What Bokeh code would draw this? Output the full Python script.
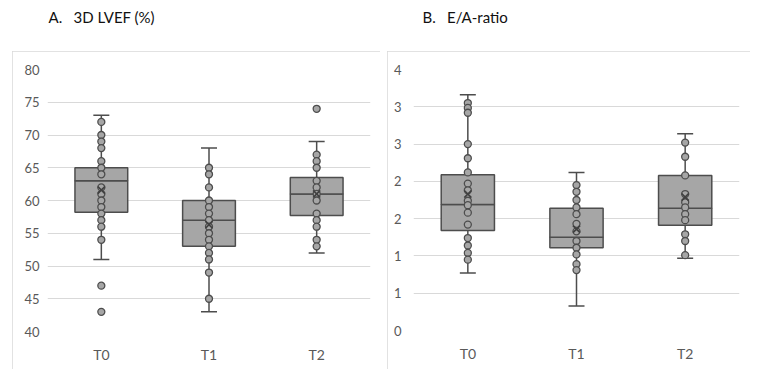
from bokeh.plotting import figure
from bokeh.models import ColumnDataSource, FactorRange, Range1d, FixedTicker, Spacer
from bokeh.layouts import row, column
from bokeh.embed import file_html
from bokeh.resources import INLINE

# ---------------- data ----------------
categories = ["T0", "T1", "T2"]

# Panel A: 3D LVEF (%)
a_low = [51, 43, 52]
a_q1 = [58.2, 53, 57.7]
a_median = [63, 57, 61]
a_q3 = [65, 60, 63.5]
a_high = [73, 68, 69]
a_mean = [61.6, 56.3, 61.0]
a_points_t0 = [72, 70, 69, 68, 66, 65, 64, 62, 61, 60, 59, 58, 57, 56, 54, 47, 43]
a_points_t1 = [65, 64, 62, 60, 59, 58, 57, 56, 55, 54, 53, 52, 51, 49, 45]
a_points_t2 = [74, 67, 66, 65, 63, 62, 61, 60, 58, 57, 56, 54, 53]
a_ticks = [40, 45, 50, 55, 60, 65, 70, 75, 80]
a_tick_labels = ["40", "45", "50", "55", "60", "65", "70", "75", "80"]

# Panel B: E/A-ratio
b_low = [0.77, 0.33, 0.97]
b_q1 = [1.34, 1.11, 1.41]
b_median = [1.69, 1.25, 1.64]
b_q3 = [2.09, 1.64, 2.08]
b_high = [3.16, 2.12, 2.64]
b_mean = [1.83, 1.36, 1.79]
b_points_t0 = [3.05, 2.985, 2.92, 2.50, 2.31, 2.12, 1.97, 1.88, 1.74, 1.68, 1.58,
               1.42, 1.24, 1.14, 1.04, 0.95]
b_points_t1 = [1.95, 1.86, 1.75, 1.65, 1.56, 1.43, 1.33, 1.20, 1.11, 1.02, 0.89, 0.81]
b_points_t2 = [2.52, 2.33, 2.08, 1.83, 1.72, 1.65, 1.56, 1.48, 1.29, 1.20, 1.01]
b_ticks = [0, 0.5, 1, 1.5, 2, 2.5, 3, 3.5]
b_tick_labels = ["0", "1", "1", "2", "2", "3", "3", "4"]

# ---------------- style ----------------
FONT = "Lato"
LABEL_COLOR = "#595959"
GRID_COLOR = "#d9d9d9"
BOX_FILL = "#a6a6a6"
EDGE = "#4d4d4d"


def title_fig(text, left):
    t = figure(width=384, height=46, output_backend="svg", toolbar_location=None,
               x_axis_location=None, y_axis_location=None,
               min_border_left=left, min_border_right=0, min_border_top=0,
               min_border_bottom=0)
    t.grid.visible = False
    t.outline_line_color = None
    t.title.text = text
    t.title.text_font = FONT
    t.title.text_font_size = "15px"
    t.title.text_font_style = "normal"
    t.title.text_color = "#111111"
    t.title.align = "left"
    t.title.standoff = 0
    return t


def panel(low, q1, med, q3, high, mean, pts, ticks, tick_labels, yr,
          width, left, right, bottom, ystandoff):
    p = figure(width=width, height=318, x_range=FactorRange(*categories),
               y_range=Range1d(*yr), output_backend="svg",
               toolbar_location=None, min_border_left=left,
               min_border_right=right, min_border_top=18,
               min_border_bottom=bottom)
    p.styles = {"outline": "1px solid #d9d9d9", "outline-offset": "-1px"}
    p.outline_line_color = None

    p.xgrid.grid_line_color = None
    p.ygrid.grid_line_color = GRID_COLOR
    p.ygrid.grid_line_width = 1

    p.yaxis.ticker = FixedTicker(ticks=ticks)
    p.yaxis.major_label_overrides = {t: l for t, l in zip(ticks, tick_labels)}
    for ax in (p.xaxis, p.yaxis):
        ax.axis_line_color = None
        ax.major_tick_line_color = None
        ax.minor_tick_line_color = None
        ax.major_tick_out = 0
        ax.major_tick_in = 0
        ax.minor_tick_out = 0
        ax.major_label_text_font = FONT
        ax.major_label_text_color = LABEL_COLOR
    p.yaxis.major_label_text_font_size = "13px"
    p.xaxis.major_label_text_font_size = "14px"
    p.yaxis.major_label_standoff = ystandoff
    p.xaxis.major_label_standoff = 14

    src = ColumnDataSource(dict(cat=categories, low=low, q1=q1, med=med,
                                q3=q3, high=high, mean=mean))
    # whiskers
    p.segment(x0="cat", y0="q3", x1="cat", y1="high", source=src,
              line_color=EDGE, line_width=1.5)
    p.segment(x0="cat", y0="low", x1="cat", y1="q1", source=src,
              line_color=EDGE, line_width=1.5)
    p.scatter(x="cat", y="high", source=src, marker="dash", size=16,
              line_color=EDGE, line_width=1.5)
    p.scatter(x="cat", y="low", source=src, marker="dash", size=16,
              line_color=EDGE, line_width=1.5)
    # boxes
    p.vbar(x="cat", width=0.49, bottom="q1", top="med", source=src,
           fill_color=BOX_FILL, line_color=EDGE, line_width=1.5)
    p.vbar(x="cat", width=0.49, bottom="med", top="q3", source=src,
           fill_color=BOX_FILL, line_color=EDGE, line_width=1.5)
    # points
    xs, ys = [], []
    for c, vals in zip(categories, pts):
        xs += [c] * len(vals)
        ys += list(vals)
    p.scatter(x=xs, y=ys, size=7, fill_color=BOX_FILL, line_color=EDGE,
              line_width=1.3)
    # means
    p.scatter(x="cat", y="mean", source=src, marker="x", size=10,
              line_color="#404040", line_width=1.7)
    return p


ta = title_fig("A.\u20033D LVEF (%)", 48)
tb = title_fig("B.\u2003E/A-ratio", 38)

pa = panel(a_low, a_q1, a_median, a_q3, a_high, a_mean,
           [a_points_t0, a_points_t1, a_points_t2], a_ticks, a_tick_labels,
           (40, 80), 368, 35, 10, 38, 8)
pb = panel(b_low, b_q1, b_median, b_q3, b_high, b_mean,
           [b_points_t0, b_points_t1, b_points_t2], b_ticks, b_tick_labels,
           (0, 3.5), 363, 26, 11, 39, 12)

col_a = column(Spacer(width=384, height=5), ta,
               row(Spacer(width=12, height=318), pa, Spacer(width=4, height=318)))
col_b = column(Spacer(width=384, height=5), tb,
               row(Spacer(width=3, height=318), pb, Spacer(width=18, height=318)))
layout = row(col_a, col_b)
open("out.html", "w").write(file_html(layout, INLINE))
